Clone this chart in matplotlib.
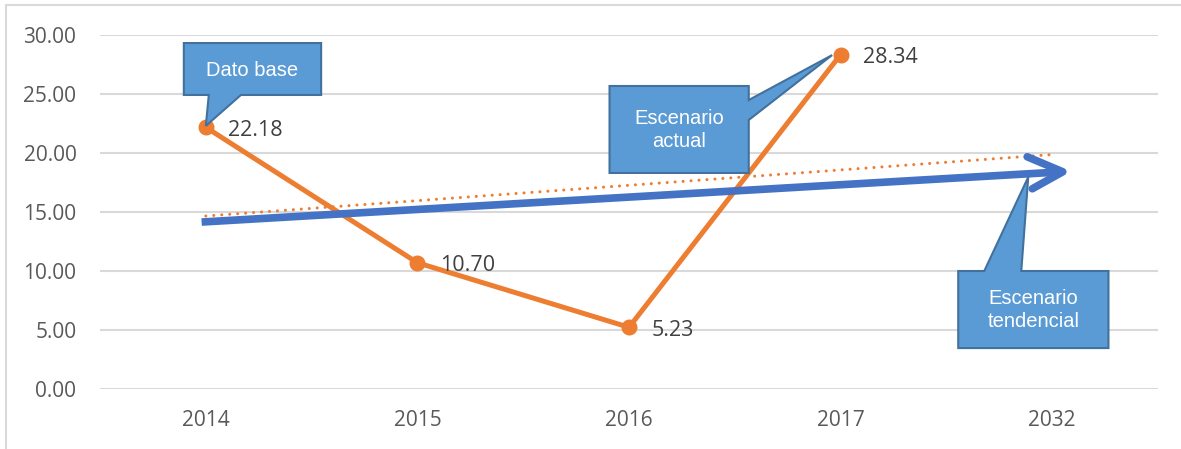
import matplotlib.pyplot as plt
from matplotlib.patches import Polygon
from matplotlib.lines import Line2D

years = ['2014', '2015', '2016', '2017', '2032']
values = [22.18, 10.70, 5.23, 28.34]
labels = ['22.18', '10.70', '5.23', '28.34']
# linear trendline (2014 -> 2032)
trend = [14.66, 19.87]

orange = '#ED7D31'
blue = '#4472C4'
box_fill = '#5B9BD5'
box_edge = '#41719C'

plt.rcParams['font.family'] = ['Open Sans', 'DejaVu Sans']

fig = plt.figure(figsize=(11.81, 4.49), dpi=100)
ax = fig.add_axes([0.0847, 0.1336, 0.8958, 0.7884])

x = list(range(len(years)))
ax.plot([x[0], x[-1]], trend, color=orange, lw=2.2, linestyle=(0, (0.01, 2.6)),
        dash_capstyle='round', zorder=3)
ax.plot(x[:len(values)], values, color=orange, lw=3.6, marker='o', markersize=10.5, zorder=4)
for xi, v, t in zip(x, values, labels):
    ax.annotate(t, (xi, v), xytext=(16, -2), textcoords='offset points',
                va='center', ha='left', fontsize=15.5, color='#404040', zorder=5)

# big blue arrow for the trend scenario
ax.plot([-0.02, 4.04], [14.15, 18.4], color=blue, lw=5.5, solid_capstyle='butt', zorder=6)
ax.plot([3.882, 4.05, 3.906], [19.68, 18.41, 16.97], color=blue, lw=5.5,
        solid_capstyle='round', solid_joinstyle='round', zorder=6)

ax.set_xlim(-0.5, 4.5)
ax.set_ylim(0, 30)
ax.set_yticks([0, 5, 10, 15, 20, 25, 30])
ax.set_yticklabels(['%.2f' % t for t in [0, 5, 10, 15, 20, 25, 30]])
ax.set_xticks(x)
ax.set_xticklabels(years)
ax.tick_params(length=0, labelsize=15, labelcolor='#595959')
ax.tick_params(axis='x', pad=15)
ax.tick_params(axis='y', pad=17)
ax.grid(axis='y', color='#D9D9D9', lw=1.5)
ax.set_axisbelow(True)
for s in ax.spines.values():
    s.set_visible(False)


def callout(pts, text, tx, ty):
    ax.add_patch(Polygon(pts, closed=True, facecolor=box_fill, edgecolor=box_edge,
                         lw=1.5, zorder=7, clip_on=False))
    ax.text(tx, ty, text, color='white', fontsize=14.5, ha='center', va='center',
            family=['Liberation Sans', 'DejaVu Sans'], linespacing=1.3, zorder=8)


# Dato base
callout([(-0.104, 29.32), (0.545, 29.32), (0.545, 24.92), (0.166, 24.92),
         (0.0, 22.3), (0.014, 24.92), (-0.104, 24.92)], 'Dato base', 0.22, 27.0)
# Escenario actual
callout([(1.908, 25.68), (2.566, 25.68), (2.566, 24.49), (2.96, 28.3),
         (2.566, 22.80), (2.566, 18.31), (1.908, 18.31)], 'Escenario\nactual', 2.237, 21.95)
# Escenario tendencial
callout([(3.556, 10.0), (3.679, 10.0), (3.887, 17.97), (3.854, 10.0),
         (4.266, 10.0), (4.266, 3.47), (3.556, 3.47)], 'Escenario\ntendencial', 3.911, 6.7)

# frame of the chart area (only top and left edges visible)
fig.add_artist(Line2D([6 / 1181, 1], [1 - 5 / 449, 1 - 5 / 449], color='#D9D9D9', lw=1.5))
fig.add_artist(Line2D([6 / 1181, 6 / 1181], [0, 1 - 5 / 449], color='#D9D9D9', lw=1.5))

fig.savefig('out.png', dpi=100)
